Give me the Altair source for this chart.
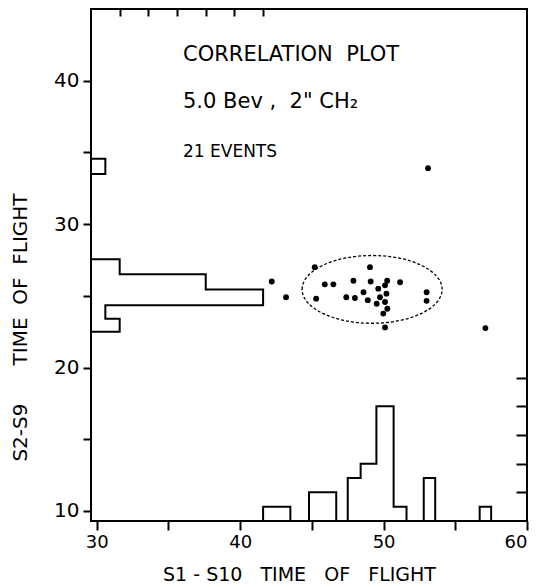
import altair as alt
import pandas as pd

FONT = "DejaVu Sans"
NB = "\u00a0"

# ---- data ----
# scatter: S1-S10 time of flight (x) vs S2-S9 time of flight (y)
tof_x = [42.2, 43.2, 45.2, 45.3, 45.9, 46.5, 47.4, 48.0, 47.9, 48.6, 48.9, 49.05, 49.1, 50.25,
         51.15, 49.63, 49.75, 49.52, 50.1, 50.2, 50.1, 49.98, 50.26, 53.0, 53.0, 50.1, 57.1, 53.1]
tof_y = [26.0, 24.9, 27.0, 24.8, 25.8, 25.8, 24.9, 24.85, 26.05, 25.25, 24.7, 27.0, 26.0, 26.05,
         25.95, 25.5, 24.9, 24.45, 25.73, 25.15, 24.57, 23.76, 24.1, 25.25, 24.65, 22.8, 22.75, 33.9]

# bottom histogram (projection on x): bin edges and counts
bx_edges = [41.6, 43.5, 44.8, 46.7, 47.5, 48.4, 49.5, 50.7, 51.6, 52.8, 53.6, 56.7, 57.5]
bx_counts = [1, 0, 2, 0, 3, 4, 8, 1, 0, 3, 0, 1]

# left histogram (projection on y): bin edges and counts
ly_edges = [22.5, 23.4, 24.35, 25.45, 26.5, 27.55, 33.5, 34.55]
ly_counts = [2, 1, 12, 8, 2, 0, 1]

# ellipse around the cluster (centre)
ell_center = [49.2, 25.45]

# axes
x_ticks = [30, 35, 40, 45, 50, 55, 60]
y_ticks = [10, 15, 20, 25, 30, 35, 40]
top_count_ticks = [2, 4, 6, 8, 10, 12]
right_count_ticks = [2, 4, 6, 8, 10]
X0, X1 = 29.6, 60
Y0, Y1 = 9.3, 45

title_lines = ["CORRELATION" + NB + NB + "PLOT", '5.0 Bev ,' + NB + ' 2" CH\u2082', "21" + NB + "EVENTS"]

# ---- tables ----
scatter_df = pd.DataFrame({"x": tof_x, "y": tof_y})

brows = [(bx_edges[0], 0, 0)]
brows += [(bx_edges[i], bx_counts[i], i + 1) for i in range(len(bx_counts))]
brows += [(bx_edges[-1], 0, len(bx_counts) + 1)]
bottom_df = pd.DataFrame(brows, columns=["x", "count", "i"])
bottom_df["y"] = Y0 + bottom_df["count"]

lrows = [(0, ly_edges[0], 0)]
lrows += [(ly_counts[i], ly_edges[i], i + 1) for i in range(len(ly_counts))]
lrows += [(0, ly_edges[-1], len(ly_counts) + 1)]
left_df = pd.DataFrame(lrows, columns=["count", "y", "i"])
left_df["x"] = X0 + left_df["count"]

ell_df = pd.DataFrame({"x": [ell_center[0]], "y": [ell_center[1]]})

xs = alt.Scale(domain=[X0, X1], nice=False, zero=False)
ys = alt.Scale(domain=[Y0, Y1], nice=False, zero=False)

only10 = "datum.value % 10 === 0 ? datum.label : ''"
GAP = NB * 3

points = alt.Chart(scatter_df).mark_circle(size=34, color="black", opacity=1).encode(
    x=alt.X("x:Q", scale=xs, axis=alt.Axis(
        orient="bottom", values=x_ticks, labelExpr=only10, tickSize=9, domain=False,
        labelFontSize=18, labelFont=FONT, labelPadding=3,
        title="S1 - S10" + GAP + "TIME" + GAP + "OF" + GAP + "FLIGHT",
        titleFont=FONT, titleFontSize=19, titleFontWeight="normal",
        titleX=208, titleY=59, titleBaseline="alphabetic", titleAlign="center")),
    y=alt.Y("y:Q", scale=ys, axis=alt.Axis(
        orient="left", values=y_ticks, labelExpr=only10, tickSize=8, domain=False,
        labelFontSize=20, labelFont=FONT, labelPadding=4,
        title="S2-S9" + NB * 6 + "TIME" + NB + NB + "OF" + NB + NB + "FLIGHT",
        titleFont=FONT, titleFontSize=20, titleFontWeight="normal",
        titleX=-71, titleY=318, titleAngle=270, titleAlign="center", titleBaseline="middle")),
)

ellipse = alt.Chart(ell_df).mark_point(
    shape="M -1 0 A 1 0.484 0 1 1 1 0 A 1 0.484 0 1 1 -1 0 Z",
    size=19600, filled=False, stroke="black", strokeWidth=1.3, strokeDash=[3, 2], opacity=1,
).encode(
    x=alt.X("x:Q", scale=xs, axis=None),
    y=alt.Y("y:Q", scale=ys, axis=None),
)

bottom_hist = alt.Chart(bottom_df).mark_line(interpolate="step-after", color="black", strokeWidth=2).encode(
    x=alt.X("x:Q", scale=xs, axis=None),
    y=alt.Y("y:Q", scale=ys, axis=alt.Axis(
        orient="right", values=[Y0 + c for c in right_count_ticks], labels=False, domain=False,
        tickSize=11, offset=-11, title=None)),
    order="i:Q",
)

left_hist = alt.Chart(left_df).mark_line(interpolate="step-before", color="black", strokeWidth=2).encode(
    x=alt.X("x:Q", scale=xs, axis=alt.Axis(
        orient="top", values=[X0 + c for c in top_count_ticks], labels=False, domain=False,
        tickSize=7, offset=-7, title=None)),
    y=alt.Y("y:Q", scale=ys, axis=None),
    order="i:Q",
)

def note(text, size, ypix):
    return alt.Chart(pd.DataFrame({"t": [text]})).mark_text(
        align="left", baseline="alphabetic", font=FONT, fontSize=size, color="black"
    ).encode(x=alt.value(92), y=alt.value(ypix), text="t:N")

texts = note(title_lines[0], 21, 52) + note(title_lines[1], 21, 99) + note(title_lines[2], 17, 148)

chart = alt.layer(points, bottom_hist, left_hist, ellipse, texts).resolve_axis(
    x="independent", y="independent"
).properties(
    width=436, height=512,
    autosize=alt.AutoSizeParams(type="none"),
    padding={"left": 91, "top": 9, "right": 12, "bottom": 66},
    background="white",
).configure_view(stroke="black", strokeWidth=2).configure_axis(
    grid=False, tickColor="black", tickWidth=2, labelColor="black", titleColor="black"
)

chart.save("out.html", embed_options={"renderer": "svg", "actions": False})
